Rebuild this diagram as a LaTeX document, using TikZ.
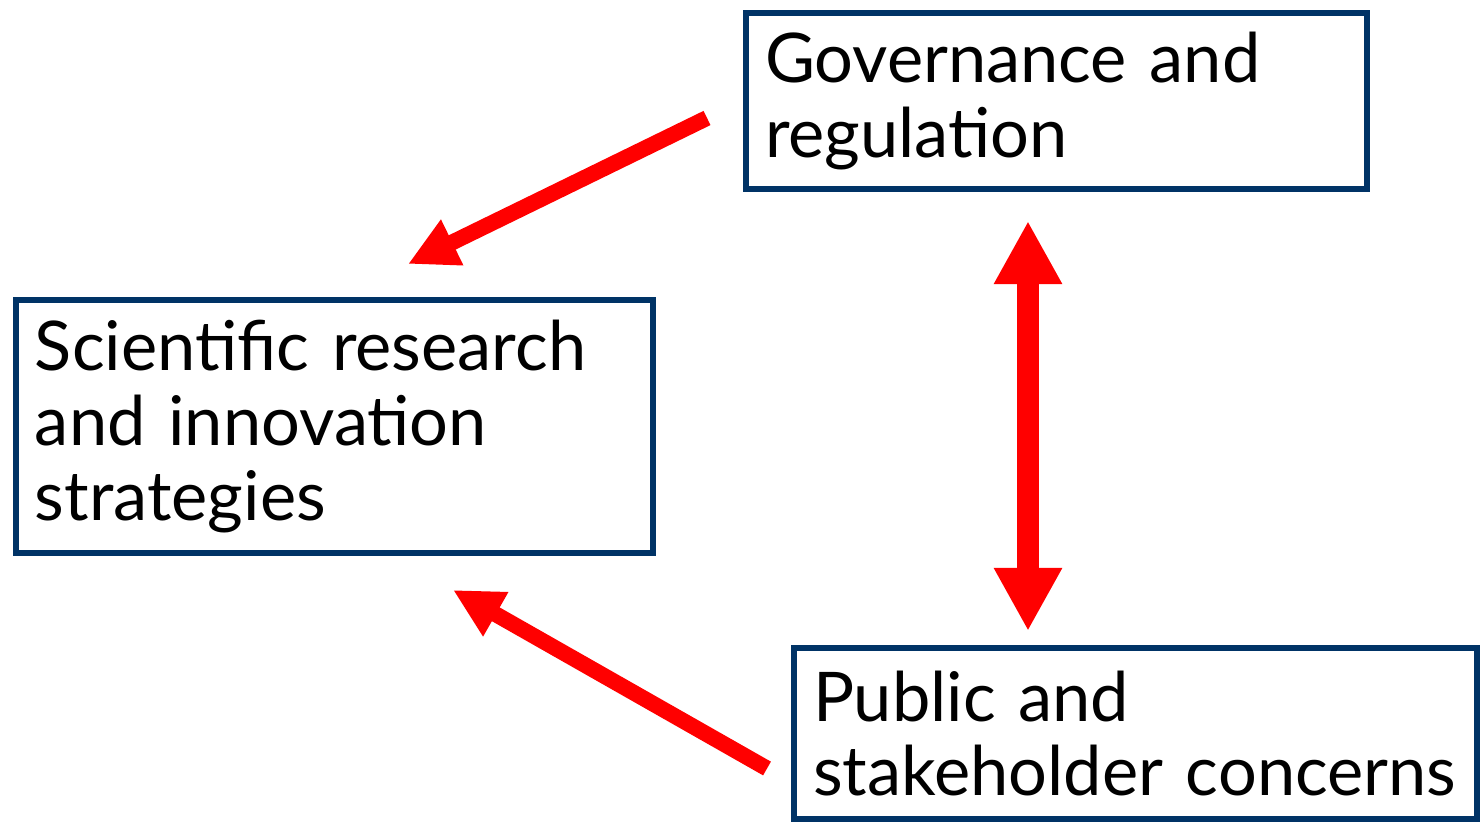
\documentclass[tikz,border=0pt]{standalone}
\usepackage{fontspec}
\setmainfont{Lato}
\usepackage{tikz}
\usetikzlibrary{arrows.meta}

\definecolor{boxblue}{RGB}{0,51,102}
\definecolor{arrowred}{RGB}{255,0,0}
\hyphenpenalty=10000

\begin{document}
\begin{tikzpicture}
  [box/.style={draw=boxblue,line width=1.7pt,inner xsep=0.19cm,align=left,
     font=\fontsize{19.5}{21.3}\selectfont},
   bigarrow/.style={draw=arrowred,line width=4.5pt,-{Triangle[length=14pt,width=13.5pt]}},
   twoway/.style={draw=arrowred,line width=6.2pt,
     {Triangle[length=18pt,width=18.2pt]}-{Triangle[length=18pt,width=18.2pt]}}]
  \useasboundingbox (0,0) rectangle (14.83,8.25);
  \node[box,minimum height=1.76cm,text width=5.83cm] (gov) at (10.565,7.24)
    {Governance and\\regulation};
  \node[box,minimum height=2.53cm,text width=5.99cm] (sci) at (3.345,3.985)
    {Scientific research\\and innovation\\strategies};
  \node[box,minimum height=1.71cm,text width=6.45cm] (pub) at (11.355,0.915)
    {Public and\\\mbox{stakeholder concerns}};
  % arrows between the boxes
  \draw[bigarrow] ([shift={(-0.36,-0.17)}]gov.west) -- ([shift={(0.735,0.33)}]sci.north);
  \draw[bigarrow] ([shift={(-0.24,-0.35)}]pub.west) -- ([shift={(1.185,-0.34)}]sci.south);
  \draw[twoway] ([shift={(-0.285,-0.29)}]gov.south) -- ([shift={(-1.075,0.14)}]pub.north);
\end{tikzpicture}
\end{document}
